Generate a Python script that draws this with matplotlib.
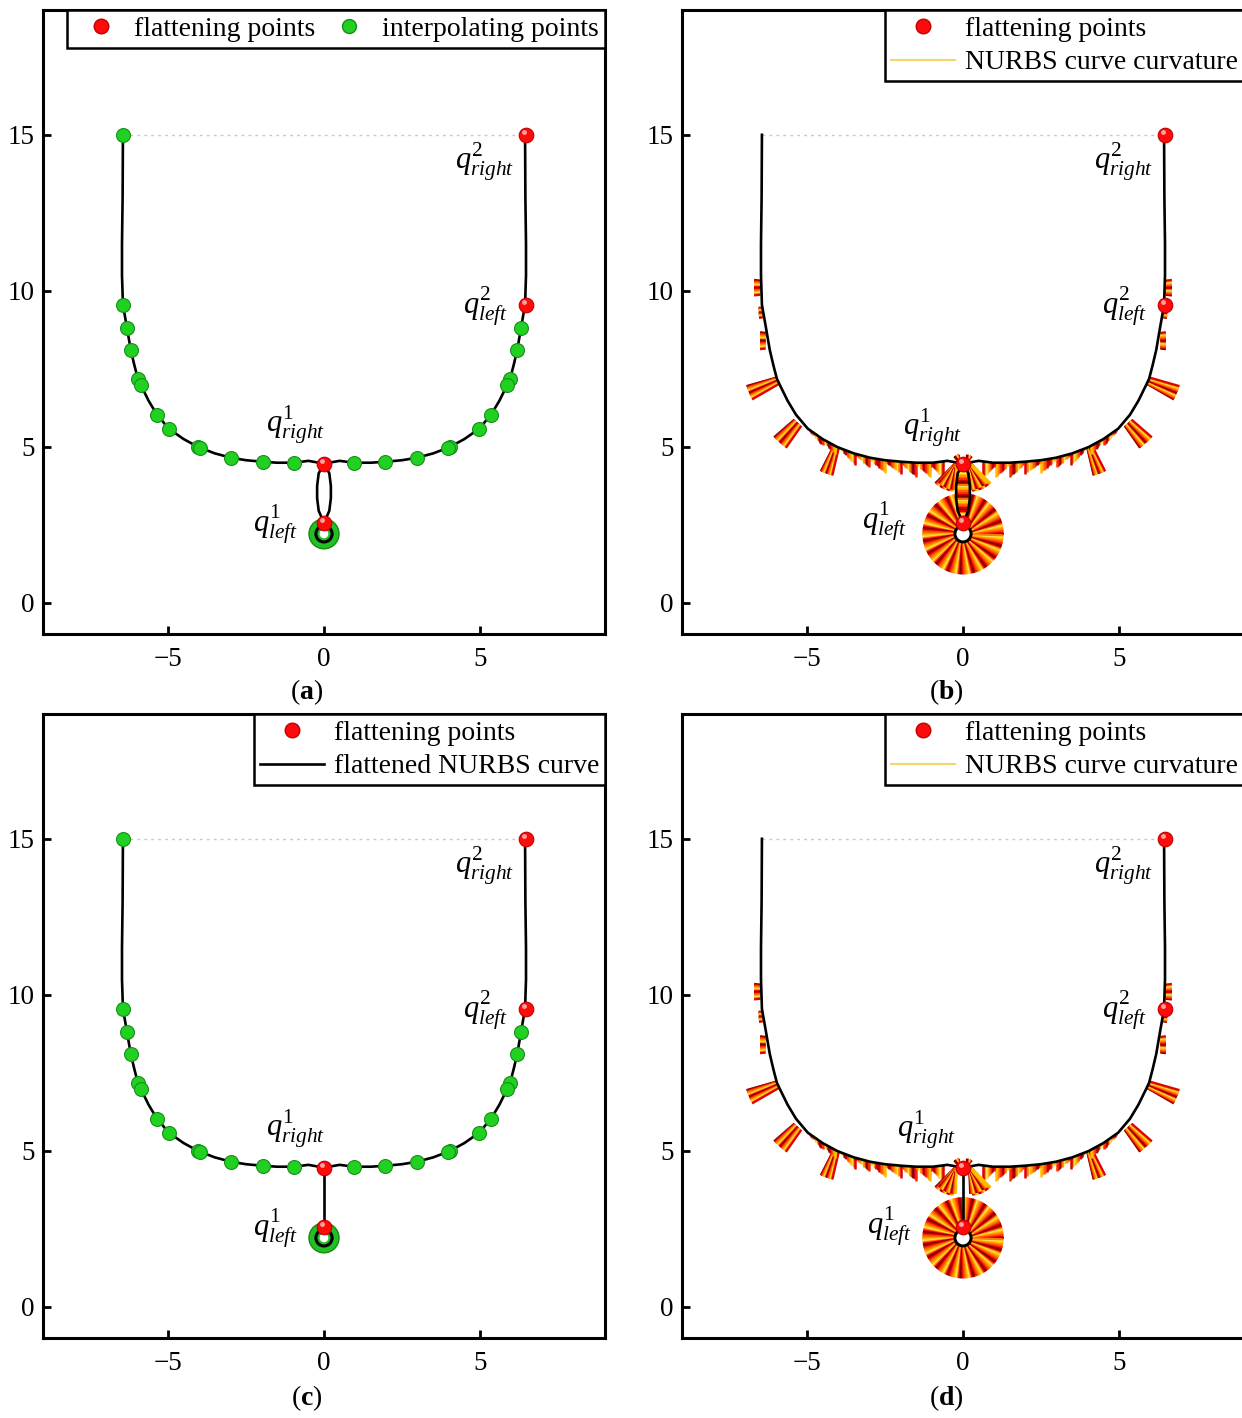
import numpy as np
import matplotlib.pyplot as plt
from matplotlib.collections import LineCollection
from matplotlib.patches import Circle
from matplotlib.transforms import ScaledTranslation
from matplotlib.lines import Line2D

plt.rcParams['font.family'] = ['Liberation Serif', 'DejaVu Serif']
plt.rcParams['mathtext.fontset'] = 'custom'
plt.rcParams['mathtext.rm'] = 'Liberation Serif'
plt.rcParams['mathtext.it'] = 'Liberation Serif:italic'
plt.rcParams['mathtext.bf'] = 'Liberation Serif:bold'

xticks = [-5, 0, 5]
yticks = [0, 5, 10, 15]

# left half of the U-shaped curve, from the top down to the centre
half_x = [-6.44, -6.45, -6.47, -6.47, -6.44, -6.31, -6.19, -6.07, -5.96, -5.87, -5.62, -5.35,
          -4.97, -4.50, -4.04, -3.97, -3.50, -2.98, -2.50, -1.96, -1.50, -0.96, -0.50, 0.0]
half_y = [15.0, 13.0, 11.5, 10.5, 9.55, 8.81, 8.11, 7.60, 7.18, 6.99, 6.48, 6.03,
          5.58, 5.25, 5.00, 4.97, 4.79, 4.65, 4.57, 4.52, 4.49, 4.49, 4.55, 4.46]

# interpolating points, left half (right half is the mirror image)
interp_x = [-6.44, -6.31, -6.19, -5.96, -5.87, -5.35, -4.97, -4.04, -3.97, -2.98, -1.96, -0.96]
interp_y = [9.55, 8.81, 8.11, 7.18, 6.99, 6.03, 5.58, 5.00, 4.97, 4.65, 4.52, 4.49]
top_x, top_y = -6.44, 15.0

flat_x = [0.0, 0.0, 6.47, 6.47]
flat_y = [4.46, 2.56, 9.55, 15.0]

# loop between q1_right and q1_left (panels a, b)
lobe_y = [4.46, 4.15, 3.75, 3.35, 2.95, 2.56]
lobe_dx = [0.0, 0.17, 0.22, 0.22, 0.17, 0.0]

ring_cx, ring_cy, ring_r = 0.0, 2.21, 0.26

# curvature comb spikes (left half, mirrored for the right)
spike_x = [-6.49, -6.42, -6.32, -5.93, -5.29, -4.07]
spike_y = [10.1, 9.3, 8.4, 7.12, 5.77, 4.97]
spike_ang = [180, 182, 180, 203, 228, 250]
spike_len = [0.2, 0.12, 0.18, 1.0, 0.86, 0.88]
spike_w = [0.45, 0.3, 0.5, 0.22, 0.3, 0.18]

# small teeth hanging below the bottom of the curve
saw_x = [-4.9, -4.5, -3.9, -3.45, -3.0, -2.5, -2.0, -1.5, -1.05]
saw_w = [0.4, 0.4, 0.45, 0.45, 0.5, 0.5, 0.5, 0.45, 0.4]
saw_len = [0.2, 0.25, 0.35, 0.3, 0.4, 0.38, 0.45, 0.45, 0.5]

# big fans next to q1_right (panels b, d)
cfan_x = [-0.25, -0.2]
cfan_ang = [245, 248]
cfan_len = [0.9, 0.85]

disk_r = [0.3, 1.3]

labels_top = [(r'$q^{2}_{right}$', 5.16, 14.1), (r'$q^{2}_{left}$', 5.16, 9.5)]
labels_ac = [(r'$q^{1}_{right}$', -0.9, 5.67), (r'$q^{1}_{left}$', -1.54, 2.53)]
labels_b = [(r'$q^{1}_{right}$', -0.96, 5.58), (r'$q^{1}_{left}$', -2.5, 2.63)]
labels_d = [(r'$q^{1}_{right}$', -1.15, 5.64), (r'$q^{1}_{left}$', -2.34, 2.6)]

comb_cols = ['#7a0000', '#c80000', '#ff2a00', '#ff6000', '#ff9000', '#ffbf00', '#ffe35a', '#ff7a00', '#e00000']

hx = np.array(half_x)
hy = np.array(half_y)
rx = -hx[::-1]
ry = hy[::-1]

fig = plt.figure(figsize=(12.42, 14.18), dpi=100)
W, H = 1242, 1418
boxes = {'a': (43, 10), 'b': (682, 10), 'c': (43, 714), 'd': (682, 714)}


def make_ax(key):
    l, t = boxes[key]
    ax = fig.add_axes([l / W, 1 - (t + 624) / H, 562 / W, 624 / H])
    ax.set_xlim(-9, 9)
    ax.set_ylim(-1, 19)
    ax.set_xticks(xticks)
    ax.set_yticks(yticks)
    ax.tick_params(direction='in', length=6, width=2, labelsize=19.5)
    ax.tick_params(axis='x', pad=9)
    ax.tick_params(axis='y', pad=6)
    for s in ax.spines.values():
        s.set_linewidth(2.2)
    return ax


def red_balls(ax):
    ax.plot(flat_x, flat_y, 'o', ms=10.5, color='#ff0a0a', mec='#c00000', mew=0.8, zorder=6)
    off = ax.transData + ScaledTranslation(-1.8 / 72, 1.8 / 72, fig.dpi_scale_trans)
    ax.plot(flat_x, flat_y, 'o', ms=3.5, color='#ffa0a0', mew=0, zorder=7, transform=off)


def draw_curve(ax, loop):
    ax.plot([top_x, 6.47], [15, 15], ls=(0, (2, 3)), color='#c8c8c8', lw=1, zorder=1)
    ax.plot(hx, hy, color='k', lw=1.9, zorder=4)
    ax.plot(rx, ry, color='k', lw=1.9, zorder=4)
    if loop:
        ax.plot(-np.array(lobe_dx), lobe_y, color='k', lw=1.9, zorder=4)
        ax.plot(lobe_dx, lobe_y, color='k', lw=1.9, zorder=4)
    else:
        ax.plot([0, 0], [lobe_y[0], lobe_y[-1]], color='k', lw=1.9, zorder=4)


def green_stuff(ax):
    ax.add_patch(Circle((ring_cx, ring_cy), 0.48, fc='#22c022', ec='#138a13', lw=1, zorder=3))
    ax.add_patch(Circle((ring_cx, ring_cy), 0.14, fc='white', ec='none', zorder=3))
    ax.add_patch(Circle((ring_cx, ring_cy), ring_r, fill=False, ec='k', lw=2.2, zorder=4))
    gx = [top_x] + interp_x + [-v for v in interp_x[1:]]
    gy = [top_y] + interp_y + interp_y[1:]
    ax.plot(gx, gy, 'o', ms=10, color='#22d022', mec='#14901a', mew=0.8, zorder=5)


def add_segs(ax, segs, lw=1.6):
    cols = [comb_cols[i % len(comb_cols)] for i in range(len(segs))]
    ax.add_collection(LineCollection(segs, colors=cols, linewidths=lw, zorder=2))


def spike(ax, x, y, ang, length, width, n=18, spread=14):
    # bundle of teeth: bases spread across the curve, slight divergence
    a0 = np.deg2rad(ang)
    px, py = -np.sin(a0), np.cos(a0)
    segs = []
    for f in np.linspace(-0.5, 0.5, n):
        t = a0 + np.deg2rad(spread * f)
        bx, by = x + f * width * px, y + f * width * py
        segs.append([(bx, by), (bx + length * np.cos(t), by + length * np.sin(t))])
    add_segs(ax, segs)


def fan(ax, x, y, ang, length, spread, n=16):
    a = np.deg2rad(ang + np.linspace(-spread / 2, spread / 2, n))
    add_segs(ax, [[(x, y), (x + length * np.cos(t), y + length * np.sin(t))] for t in a])


def comb(ax, loop):
    bx = hx[hx > -5.2]
    by = hy[hx > -5.2]
    for sgn in (1, -1):  # 1 = left half as listed, -1 = mirrored right half
        for x, y, a, L, w in zip(spike_x, spike_y, spike_ang, spike_len, spike_w):
            ang = a if sgn > 0 else 180 - a
            spike(ax, sgn * x, y, ang, L, w)
        segs = []
        for x0, w, L in zip(saw_x, saw_w, saw_len):
            xs = np.linspace(x0, x0 + w, 12)
            ys = np.interp(xs, bx, by)
            ls = np.linspace(0.04, L, 12)
            for xx, yy, ll in zip(xs, ys, ls):
                segs.append([(sgn * xx, yy), (sgn * xx, yy - ll)])
        add_segs(ax, segs, lw=1.8)
        for x, a, L in zip(cfan_x, cfan_ang, cfan_len):
            ang = a if sgn > 0 else 180 - a
            fan(ax, sgn * x, 4.47, ang, L, 40, n=24)
        fan(ax, -0.12 * sgn, 4.5, 90 + 20 * sgn, 0.25, 40, n=10)
    # disk around the small circle
    th = np.deg2rad(np.linspace(0, 360, 170, endpoint=False))
    add_segs(ax, [[(ring_cx + disk_r[0] * np.cos(t), ring_cy + disk_r[0] * np.sin(t)),
                   (ring_cx + disk_r[1] * np.cos(t), ring_cy + disk_r[1] * np.sin(t))] for t in th])
    ax.add_patch(Circle((ring_cx, ring_cy), ring_r + 0.04, fc='white', ec='none', zorder=3))
    ax.add_patch(Circle((ring_cx, ring_cy), ring_r, fill=False, ec='k', lw=2.2, zorder=4))
    if loop:
        ys = np.linspace(lobe_y[-1], lobe_y[0], 40)
        dx = np.interp(ys, lobe_y[::-1], lobe_dx[::-1])
        add_segs(ax, [[(-d, y), (d, y)] for d, y in zip(dx, ys)])


def put_labels(ax, labs):
    for s, x, y in labels_top + labs:
        ax.text(x, y, s, fontsize=22, ha='center', va='center', zorder=8)


leg_kw = dict(loc='upper right', borderaxespad=0, fancybox=False, fontsize=20,
              edgecolor='k', framealpha=1, borderpad=0.22, labelspacing=0.3)


def red_handle():
    return Line2D([], [], ls='none', marker='o', ms=10.5, color='#ff0a0a', mec='#c00000')


def finish(lg):
    lg.get_frame().set_linewidth(1.8)


# (a)
ax = make_ax('a')
draw_curve(ax, True)
green_stuff(ax)
red_balls(ax)
put_labels(ax, labels_ac)
finish(ax.legend([red_handle(), Line2D([], [], ls='none', marker='o', ms=10, color='#22d022', mec='#14901a')],
                 ['flattening points', 'interpolating points'], ncol=2, columnspacing=0.2,
                 handlelength=2.0, handletextpad=0.2, **leg_kw))

# (b)
ax = make_ax('b')
comb(ax, True)
draw_curve(ax, True)
red_balls(ax)
put_labels(ax, labels_b)
finish(ax.legend([red_handle(), Line2D([], [], color='#f7d36b', lw=1.5)],
                 ['flattening points', 'NURBS curve curvature'], handlelength=2.3, handletextpad=0.35, **leg_kw))

# (c)
ax = make_ax('c')
draw_curve(ax, False)
green_stuff(ax)
red_balls(ax)
put_labels(ax, labels_ac)
finish(ax.legend([red_handle(), Line2D([], [], color='k', lw=1.9)],
                 ['flattening points', 'flattened NURBS curve'], handlelength=2.3, handletextpad=0.35, **leg_kw))

# (d)
ax = make_ax('d')
comb(ax, False)
draw_curve(ax, False)
red_balls(ax)
put_labels(ax, labels_d)
finish(ax.legend([red_handle(), Line2D([], [], color='#f7d36b', lw=1.5)],
                 ['flattening points', 'NURBS curve curvature'], handlelength=2.3, handletextpad=0.35, **leg_kw))

for k, (px, py) in zip('abcd', [(307, 692), (946, 692), (307, 1398), (946, 1398)]):
    fig.text(px / W, 1 - py / H, r'($\mathbf{%s}$)' % k, fontsize=20, ha='center', va='center')

fig.savefig('out.png', dpi=100)
